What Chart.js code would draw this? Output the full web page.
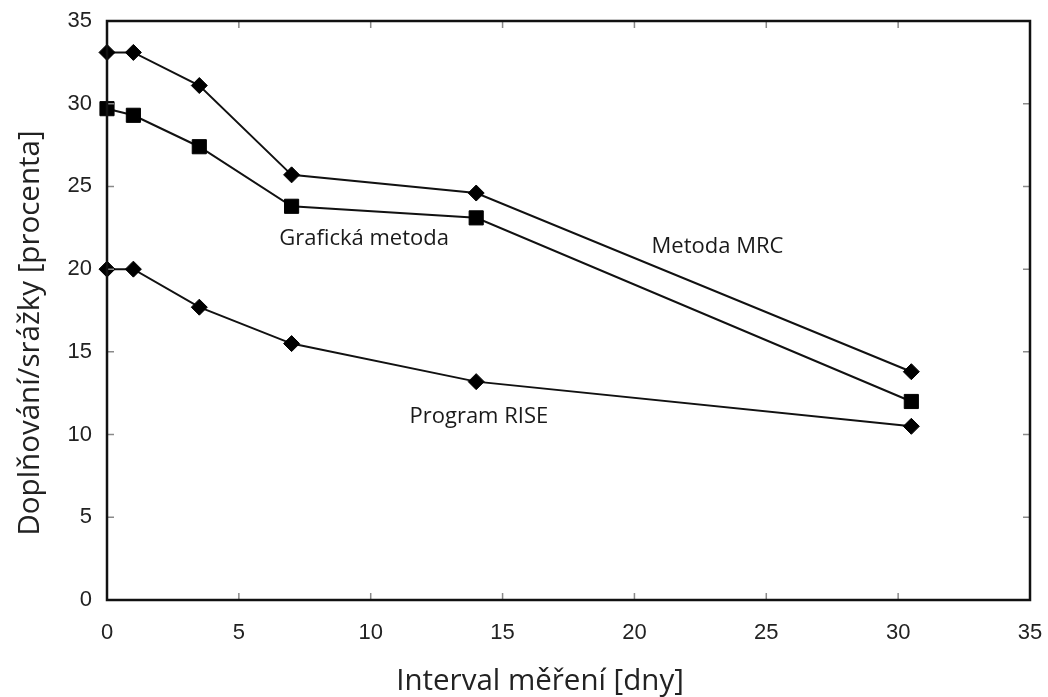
<!DOCTYPE html>
<html lang="cs">
<head>
    <meta charset="UTF-8">
    <title>Doplňování/srážky</title>
    <script src="https://cdn.jsdelivr.net/npm/chart.js"></script>
    <style>
        html, body { margin: 0; padding: 0; background: #fff; }
        #wrap { width: 1048px; height: 697px; }
    </style>
</head>
<body>
    <div id="wrap"><canvas id="rechargeChart" width="1048" height="697"></canvas></div>

    <script>
        // Interval měření (dny)
        const intervals = [0, 1, 3.5, 7, 14, 30.5];

        // Doplňování jako procento srážek
        const mrcValues = [33.1, 33.1, 31.1, 25.7, 24.6, 13.8];
        const graphicValues = [29.7, 29.3, 27.4, 23.8, 23.1, 12.0];
        const riseValues = [20.0, 20.0, 17.7, 15.5, 13.2, 10.5];

        const xTicks = [0, 5, 10, 15, 20, 25, 30, 35];
        const yTicks = [0, 5, 10, 15, 20, 25, 30, 35];

        const xTitle = 'Interval měření [dny]';
        const yTitle = 'Doplňování/srážky [procenta]';

        // popisky přímo u křivek (střed, účaří)
        const labelTexts = ['Grafická metoda', 'Metoda MRC', 'Program RISE'];
        const labelX = [9.75, 23.15, 14.1];
        const labelY = [21.45, 20.95, 10.7];

        function toPoints(values) {
            return intervals.map((x, i) => ({ x: x, y: values[i] }));
        }

        // rámeček, tiky dovnitř, popisky křivek a názvy os
        const framePlugin = {
            id: 'frame',
            afterDatasetsDraw(chart) {
                const { ctx, chartArea: a, scales } = chart;
                ctx.save();
                ctx.strokeStyle = '#8a8a8a';
                ctx.lineWidth = 1.5;
                const len = 7;
                xTicks.forEach(v => {
                    const px = scales.x.getPixelForValue(v);
                    ctx.beginPath();
                    ctx.moveTo(px, a.bottom); ctx.lineTo(px, a.bottom - len);
                    ctx.moveTo(px, a.top); ctx.lineTo(px, a.top + len);
                    ctx.stroke();
                });
                yTicks.forEach(v => {
                    const py = scales.y.getPixelForValue(v);
                    ctx.beginPath();
                    ctx.moveTo(a.left, py); ctx.lineTo(a.left + len, py);
                    ctx.moveTo(a.right, py); ctx.lineTo(a.right - len, py);
                    ctx.stroke();
                });
                ctx.strokeStyle = '#111';
                ctx.lineWidth = 2.5;
                ctx.strokeRect(a.left, a.top, a.right - a.left, a.bottom - a.top);

                ctx.fillStyle = '#1a1a1a';
                ctx.font = '22px "Open Sans"';
                ctx.textAlign = 'center';
                ctx.textBaseline = 'alphabetic';
                labelTexts.forEach((t, i) => {
                    ctx.fillText(t, scales.x.getPixelForValue(labelX[i]), scales.y.getPixelForValue(labelY[i]));
                });

                // názvy os
                ctx.fillStyle = '#222';
                ctx.font = '29.5px "Open Sans"';
                ctx.fillText(xTitle, a.left + 433, 690);
                ctx.translate(39, a.top + 312);
                ctx.rotate(-Math.PI / 2);
                ctx.fillText(yTitle, 0, 0);
                ctx.restore();
            }
        };

        const lineStyle = {
            borderColor: '#111',
            backgroundColor: '#000',
            pointBorderColor: '#000',
            borderWidth: 2,
            pointBorderWidth: 1,
            tension: 0,
            clip: false
        };

        const ctx = document.getElementById('rechargeChart').getContext('2d');
        new Chart(ctx, {
            type: 'line',
            data: {
                datasets: [
                    Object.assign({ label: 'Metoda MRC', data: toPoints(mrcValues), pointStyle: 'rectRot', pointRadius: 8 }, lineStyle),
                    Object.assign({ label: 'Grafická metoda', data: toPoints(graphicValues), pointStyle: 'rect', pointRadius: 10 }, lineStyle),
                    Object.assign({ label: 'Program RISE', data: toPoints(riseValues), pointStyle: 'rectRot', pointRadius: 8 }, lineStyle)
                ]
            },
            options: {
                responsive: false,
                animation: false,
                layout: { padding: { left: 0, right: 18, top: 21, bottom: 0 } },
                plugins: {
                    legend: { display: false },
                    tooltip: { enabled: false }
                },
                scales: {
                    x: {
                        type: 'linear',
                        min: 0,
                        max: 35,
                        afterBuildTicks(scale) { scale.ticks = xTicks.map(v => ({ value: v })); },
                        afterFit(scale) {
                            scale.height = 97;
                            scale.paddingLeft = 0;
                            scale.paddingRight = 0;
                        },
                        grid: { display: false, drawTicks: false },
                        border: { display: false },
                        ticks: {
                            padding: 20,
                            color: '#222',
                            font: { family: 'Liberation Sans', size: 22 }
                        }
                    },
                    y: {
                        min: 0,
                        max: 35,
                        afterBuildTicks(scale) { scale.ticks = yTicks.map(v => ({ value: v })); },
                        afterFit(scale) {
                            scale.width = 107;
                            scale.paddingTop = 0;
                            scale.paddingBottom = 0;
                        },
                        grid: { display: false, drawTicks: false },
                        border: { display: false },
                        ticks: {
                            padding: 15,
                            color: '#222',
                            font: { family: 'Liberation Sans', size: 22 }
                        }
                    }
                }
            },
            plugins: [framePlugin]
        });
    </script>
</body>
</html>
